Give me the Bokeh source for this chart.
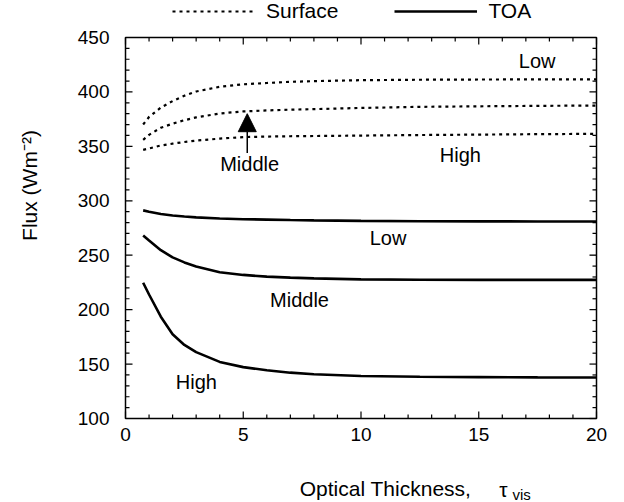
import numpy as np
from bokeh.plotting import figure
from bokeh.models import (Range1d, Legend, LegendItem, Arrow, NormalHead, ColumnDataSource)
from bokeh.core.properties import value
from bokeh.embed import file_html
from bokeh.resources import INLINE

FONT = "Liberation Sans"

# Optical thickness grid
tau = [0.75, 1.0, 1.5, 2.0, 2.5, 3.0, 4.0, 5.0, 6.0, 7.0, 8.0, 10.0, 12.5, 15.0, 17.5, 20.0]

# Surface fluxes (W m-2) for low, middle and high clouds
surface_low = [370.1, 377.0, 385.6, 391.6, 396.5, 400.4, 404.7, 407.0, 408.2, 409.3, 409.9, 410.8, 411.2, 411.4, 411.5, 411.6]
surface_middle = [356.0, 360.6, 367.1, 370.8, 374.0, 376.6, 380.2, 382.1, 383.0, 383.7, 384.2, 385.3, 386.3, 386.8, 387.2, 387.5]
surface_high = [346.8, 348.1, 350.8, 352.5, 354.0, 355.3, 357.1, 358.5, 359.0, 359.3, 359.5, 359.9, 360.4, 360.8, 361.2, 361.5]

# Top-of-atmosphere fluxes (W m-2)
toa_low = [291.2, 290.0, 287.8, 286.5, 285.6, 284.8, 283.7, 283.1, 282.7, 282.3, 282.0, 281.5, 281.2, 281.1, 281.0, 281.0]
toa_middle = [268.1, 263.5, 254.6, 248.0, 243.4, 239.6, 234.4, 231.9, 230.3, 229.4, 228.7, 227.8, 227.4, 227.3, 227.3, 227.3]
toa_high = [224.7, 213.9, 193.5, 177.4, 167.6, 161.0, 152.0, 147.2, 144.3, 142.1, 140.7, 139.0, 138.3, 138.0, 137.8, 137.7]

# Tick values and labels
x_ticks = [0, 5, 10, 15, 20]
x_tick_labels = ["0", "5", "10", "15", "20"]
y_ticks = [100, 150, 200, 250, 300, 350, 400, 450]
y_tick_labels = ["100", "150", "200", "250", "300", "350", "400", "450"]

# Curve annotations
curve_labels = ["Low", "Middle", "High", "Low", "Middle", "High"]
curve_label_x = [17.48, 5.27, 14.22, 11.15, 7.39, 3.01]
curve_label_y = [428.1, 334.0, 342.5, 265.4, 208.4, 133.4]

# Axis limits and where the axis box sits on the page (pixels)
X0, X1 = 0, 20
Y0, Y1 = 100, 450
W, H = 624, 502
BOX_L, BOX_R, BOX_T, BOX_B = 125, 596, 37, 418

sx = (X1 - X0) / (BOX_R - BOX_L)
sy = (Y1 - Y0) / (BOX_B - BOX_T)


def px_x(px):
    return X0 + (px - BOX_L) * sx


def px_y(py):
    return Y0 + (BOX_B - py) * sy


p = figure(width=W, height=H, output_backend="svg", toolbar_location=None,
           x_range=Range1d(px_x(0), px_x(W)), y_range=Range1d(px_y(H), px_y(0)),
           x_axis_location=None, y_axis_location=None,
           min_border=0, min_border_left=0, min_border_right=0,
           min_border_top=0, min_border_bottom=0)
p.background_fill_color = "white"
p.border_fill_color = "white"
p.outline_line_color = None
p.grid.visible = False

# Axis box
p.quad(left=X0, right=X1, bottom=Y0, top=Y1, fill_alpha=0,
       line_color="black", line_width=1.5)

# Inward ticks on all four sides
xt = np.arange(X0, X1 + 1, 1)
xt_len = np.where(xt % 5 == 0, 7, 4)
yt = np.arange(Y0, Y1 + 1, 10)
yt_len = np.where(yt % 50 == 0, 7, 4)
tick = dict(length_units="screen", line_color="black", line_width=1.2)
p.ray(x=xt, y=Y0, length=xt_len, angle=np.pi / 2, **tick)
p.ray(x=xt, y=Y1, length=xt_len, angle=-np.pi / 2, **tick)
p.ray(x=X0, y=yt, length=yt_len, angle=0.0, **tick)
p.ray(x=X1, y=yt, length=yt_len, angle=np.pi, **tick)

# Tick labels
p.text(x=x_ticks, y=[Y0] * len(x_ticks), text=x_tick_labels, y_offset=9,
       text_font=value(FONT), text_font_size="19px", text_align="center",
       text_baseline="top", text_color="black")
p.text(x=[X0] * len(y_ticks), y=y_ticks, text=y_tick_labels, x_offset=-16,
       text_font=value(FONT), text_font_size="19px", text_align="right",
       text_baseline="middle", text_color="black")

# Axis titles
p.text(x=[px_x(29)], y=[px_y(185)], text=["Flux (Wm\u207b\u00b2)"], angle=np.pi / 2,
       text_font=value(FONT), text_font_size="21px", text_align="center",
       text_baseline="middle", text_color="black")
p.text(x=[px_x(385)], y=[px_y(488)], text=["Optical Thickness,"],
       text_font=value(FONT), text_font_size="21px", text_align="center",
       text_baseline="middle", text_color="black")
p.text(x=[px_x(503)], y=[px_y(489)], text=["\u03c4"],
       text_font=value(FONT), text_font_size="21px", text_align="center",
       text_baseline="middle", text_color="black")
p.text(x=[px_x(512)], y=[px_y(494)], text=["vis"],
       text_font=value(FONT), text_font_size="15px", text_align="left",
       text_baseline="middle", text_color="black")

# Flux curves
src = ColumnDataSource(dict(tau=tau, sl=surface_low, sm=surface_middle, sh=surface_high,
                            tl=toa_low, tm=toa_middle, th=toa_high))

dot = dict(line_color="black", line_width=2.2, line_dash="3 4", line_cap="butt")
r_surf = p.line("tau", "sl", source=src, **dot)
p.line("tau", "sm", source=src, **dot)
p.line("tau", "sh", source=src, **dot)

solid = dict(line_color="black", line_width=2.6)
r_toa = p.line("tau", "tl", source=src, **solid)
p.line("tau", "tm", source=src, **solid)
p.line("tau", "th", source=src, **solid)

lab_src = ColumnDataSource(dict(x=curve_label_x, y=curve_label_y, t=curve_labels))
p.text("x", "y", text="t", source=lab_src, text_font=value(FONT), text_font_size="20px",
       text_align="center", text_baseline="middle", text_color="black")

# Arrow pointing to the middle-cloud surface curve
p.add_layout(Arrow(end=NormalHead(size=18, fill_color="black", line_color="black"),
                   x_start=5.17, y_start=344.0, x_end=5.17, y_end=380.0,
                   line_color="black", line_width=1.5))

# Legend along the top of the page (bottom-left corner in screen pixels)
legend = Legend(items=[LegendItem(label="Surface", renderers=[r_surf]),
                       LegendItem(label="TOA", renderers=[r_toa])],
                orientation="horizontal", location=(172, H - 23),
                label_text_font=FONT, label_text_font_size="21px", label_text_color="black",
                glyph_width=83, glyph_height=20, label_standoff=11, spacing=56,
                padding=0, margin=0, border_line_alpha=0, background_fill_alpha=0)
p.add_layout(legend)

open("out.html", "w").write(file_html(p, INLINE))
